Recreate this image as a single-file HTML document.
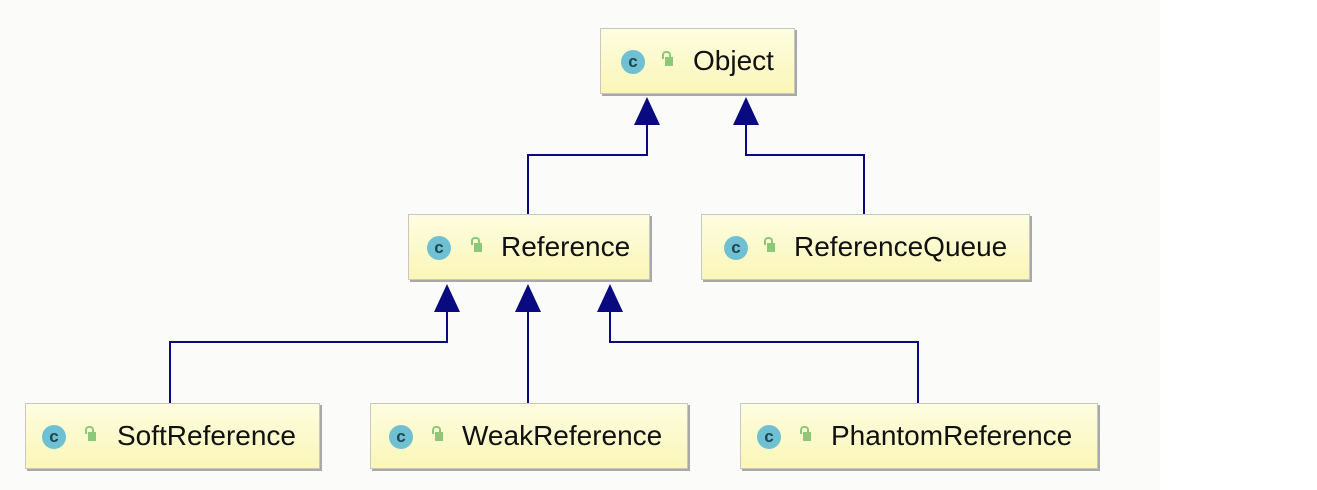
<!DOCTYPE html>
<html><head><style>
body{margin:0;width:1317px;height:490px;background:#fff;overflow:hidden;font-family:"Liberation Sans",sans-serif;}
.bg{position:absolute;left:0;top:0;width:1160px;height:490px;background:#fbfcfa;}
.n{position:absolute;height:66px;background:linear-gradient(#fdfde0,#fbf6b8);border:1px solid #c8c8c0;box-shadow:2px 2px 0 #a8a8a8;box-sizing:border-box;}
.c{position:absolute;top:21px;width:24px;height:24px;border-radius:50%;background:#6fc0d2;color:#1d4650;font-size:17px;line-height:23px;text-align:center;font-weight:bold;}
.l{position:absolute;top:28px;width:8px;height:9px;background:#8cc878;}
.l:before{content:"";position:absolute;left:-3px;top:-6px;width:5px;height:6px;border:2px solid #8cc878;border-bottom:none;border-radius:4px 4px 0 0;}
.t{position:absolute;top:16px;font-size:28px;color:#111;white-space:nowrap;}
</style></head><body>
<div class="bg"></div>
<svg width="1317" height="490" style="position:absolute;left:0;top:0">
<g fill="none" stroke="#0a0a80" stroke-width="2">
<polyline points="528,214 528,155 647,155 647,120"/>
<polyline points="864,214 864,155 746,155 746,120"/>
<polyline points="170,403 170,342 447,342 447,308"/>
<polyline points="528,403 528,308"/>
<polyline points="918,403 918,342 610,342 610,308"/>
</g>
<g fill="#0a0a80">
<polygon points="647,97 634,125 660,125"/>
<polygon points="746,97 733,125 759,125"/>
<polygon points="447,284 434,312 460,312"/>
<polygon points="528,284 515,312 541,312"/>
<polygon points="610,284 597,312 623,312"/>
</g>
</svg>
<div class="n" style="left:600px;top:28px;width:195px"><div class="c" style="left:20px">c</div><div class="l" style="left:64px"></div><div class="t" style="left:92px">Object</div></div>
<div class="n" style="left:408px;top:214px;width:242px"><div class="c" style="left:18px">c</div><div class="l" style="left:65px"></div><div class="t" style="left:92px">Reference</div></div>
<div class="n" style="left:701px;top:214px;width:329px"><div class="c" style="left:22px">c</div><div class="l" style="left:65px"></div><div class="t" style="left:92px">ReferenceQueue</div></div>
<div class="n" style="left:25px;top:403px;width:295px"><div class="c" style="left:16px">c</div><div class="l" style="left:62px"></div><div class="t" style="left:91px">SoftReference</div></div>
<div class="n" style="left:370px;top:403px;width:318px"><div class="c" style="left:18px">c</div><div class="l" style="left:64px"></div><div class="t" style="left:91px">WeakReference</div></div>
<div class="n" style="left:740px;top:403px;width:358px"><div class="c" style="left:16px">c</div><div class="l" style="left:62px"></div><div class="t" style="left:90px">PhantomReference</div></div>
</body></html>
